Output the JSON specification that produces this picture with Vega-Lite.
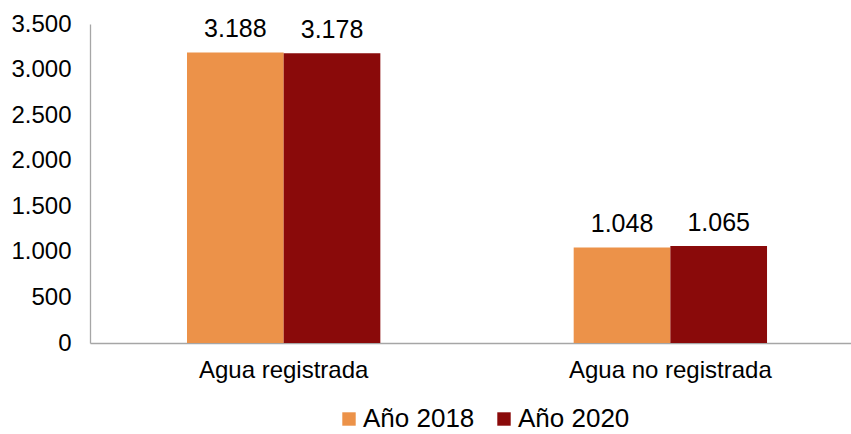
{
  "$schema": "https://vega.github.io/schema/vega-lite/v6.json",
  "autosize": {"type": "none"},
  "padding": {"left": 90, "top": 24, "right": 0, "bottom": 91},
  "width": 761,
  "height": 319,
  "background": "#ffffff",
  "config": {
    "view": {"stroke": null},
    "font": "Liberation Sans",
    "locale": {"number": {"decimal": ",", "thousands": ".", "grouping": [3], "currency": ["", " €"]}}
  },
  "data": {
    "values": [
      {"tipo": "Agua registrada", "serie": "Año 2018", "valor": 3188},
      {"tipo": "Agua registrada", "serie": "Año 2020", "valor": 3178},
      {"tipo": "Agua no registrada", "serie": "Año 2018", "valor": 1048},
      {"tipo": "Agua no registrada", "serie": "Año 2020", "valor": 1065}
    ]
  },
  "encoding": {
    "x": {
      "field": "tipo", "type": "nominal", "sort": ["Agua registrada", "Agua no registrada"],
      "scale": {"paddingInner": 0.5, "paddingOuter": 0.234, "align": 0.536},
      "axis": {"title": null, "labelAngle": 0, "ticks": false, "domainColor": "#a6a6a6", "domainWidth": 1.3,
               "labelFont": "Liberation Sans", "labelFontSize": 24, "labelColor": "#000000", "labelPadding": 15, "labelLimit": 0}
    },
    "xOffset": {"field": "serie", "type": "nominal", "scale": {"paddingInner": 0, "paddingOuter": 0}},
    "y": {
      "field": "valor", "type": "quantitative",
      "scale": {"domain": [0, 3500], "nice": false},
      "axis": {"title": null, "values": [0, 500, 1000, 1500, 2000, 2500, 3000, 3500], "format": ",d",
               "grid": false, "ticks": false, "domainColor": "#a6a6a6", "domainWidth": 1.3,
               "labelFont": "Liberation Sans", "labelFontSize": 24, "labelColor": "#000000", "labelPadding": 19}
    }
  },
  "layer": [
    {
      "mark": {"type": "bar"},
      "encoding": {
        "color": {
          "field": "serie", "type": "nominal",
          "scale": {"domain": ["Año 2018", "Año 2020"], "range": ["#EC9249", "#8A0A0A"]},
          "legend": {"title": null, "orient": "none", "legendX": 246, "legendY": 382, "direction": "horizontal",
                     "symbolType": "square", "symbolSize": 180, "symbolStrokeWidth": 0,
                     "labelFont": "Liberation Sans", "labelFontSize": 26, "labelColor": "#000000",
                     "labelOffset": 1, "columnPadding": 16, "padding": 0}
        }
      }
    },
    {
      "mark": {"type": "text", "baseline": "alphabetic", "dy": -15, "fontSize": 25, "font": "Liberation Sans", "color": "#000000"},
      "encoding": {
        "text": {"field": "valor", "type": "quantitative", "format": ",d"}
      }
    }
  ]
}
